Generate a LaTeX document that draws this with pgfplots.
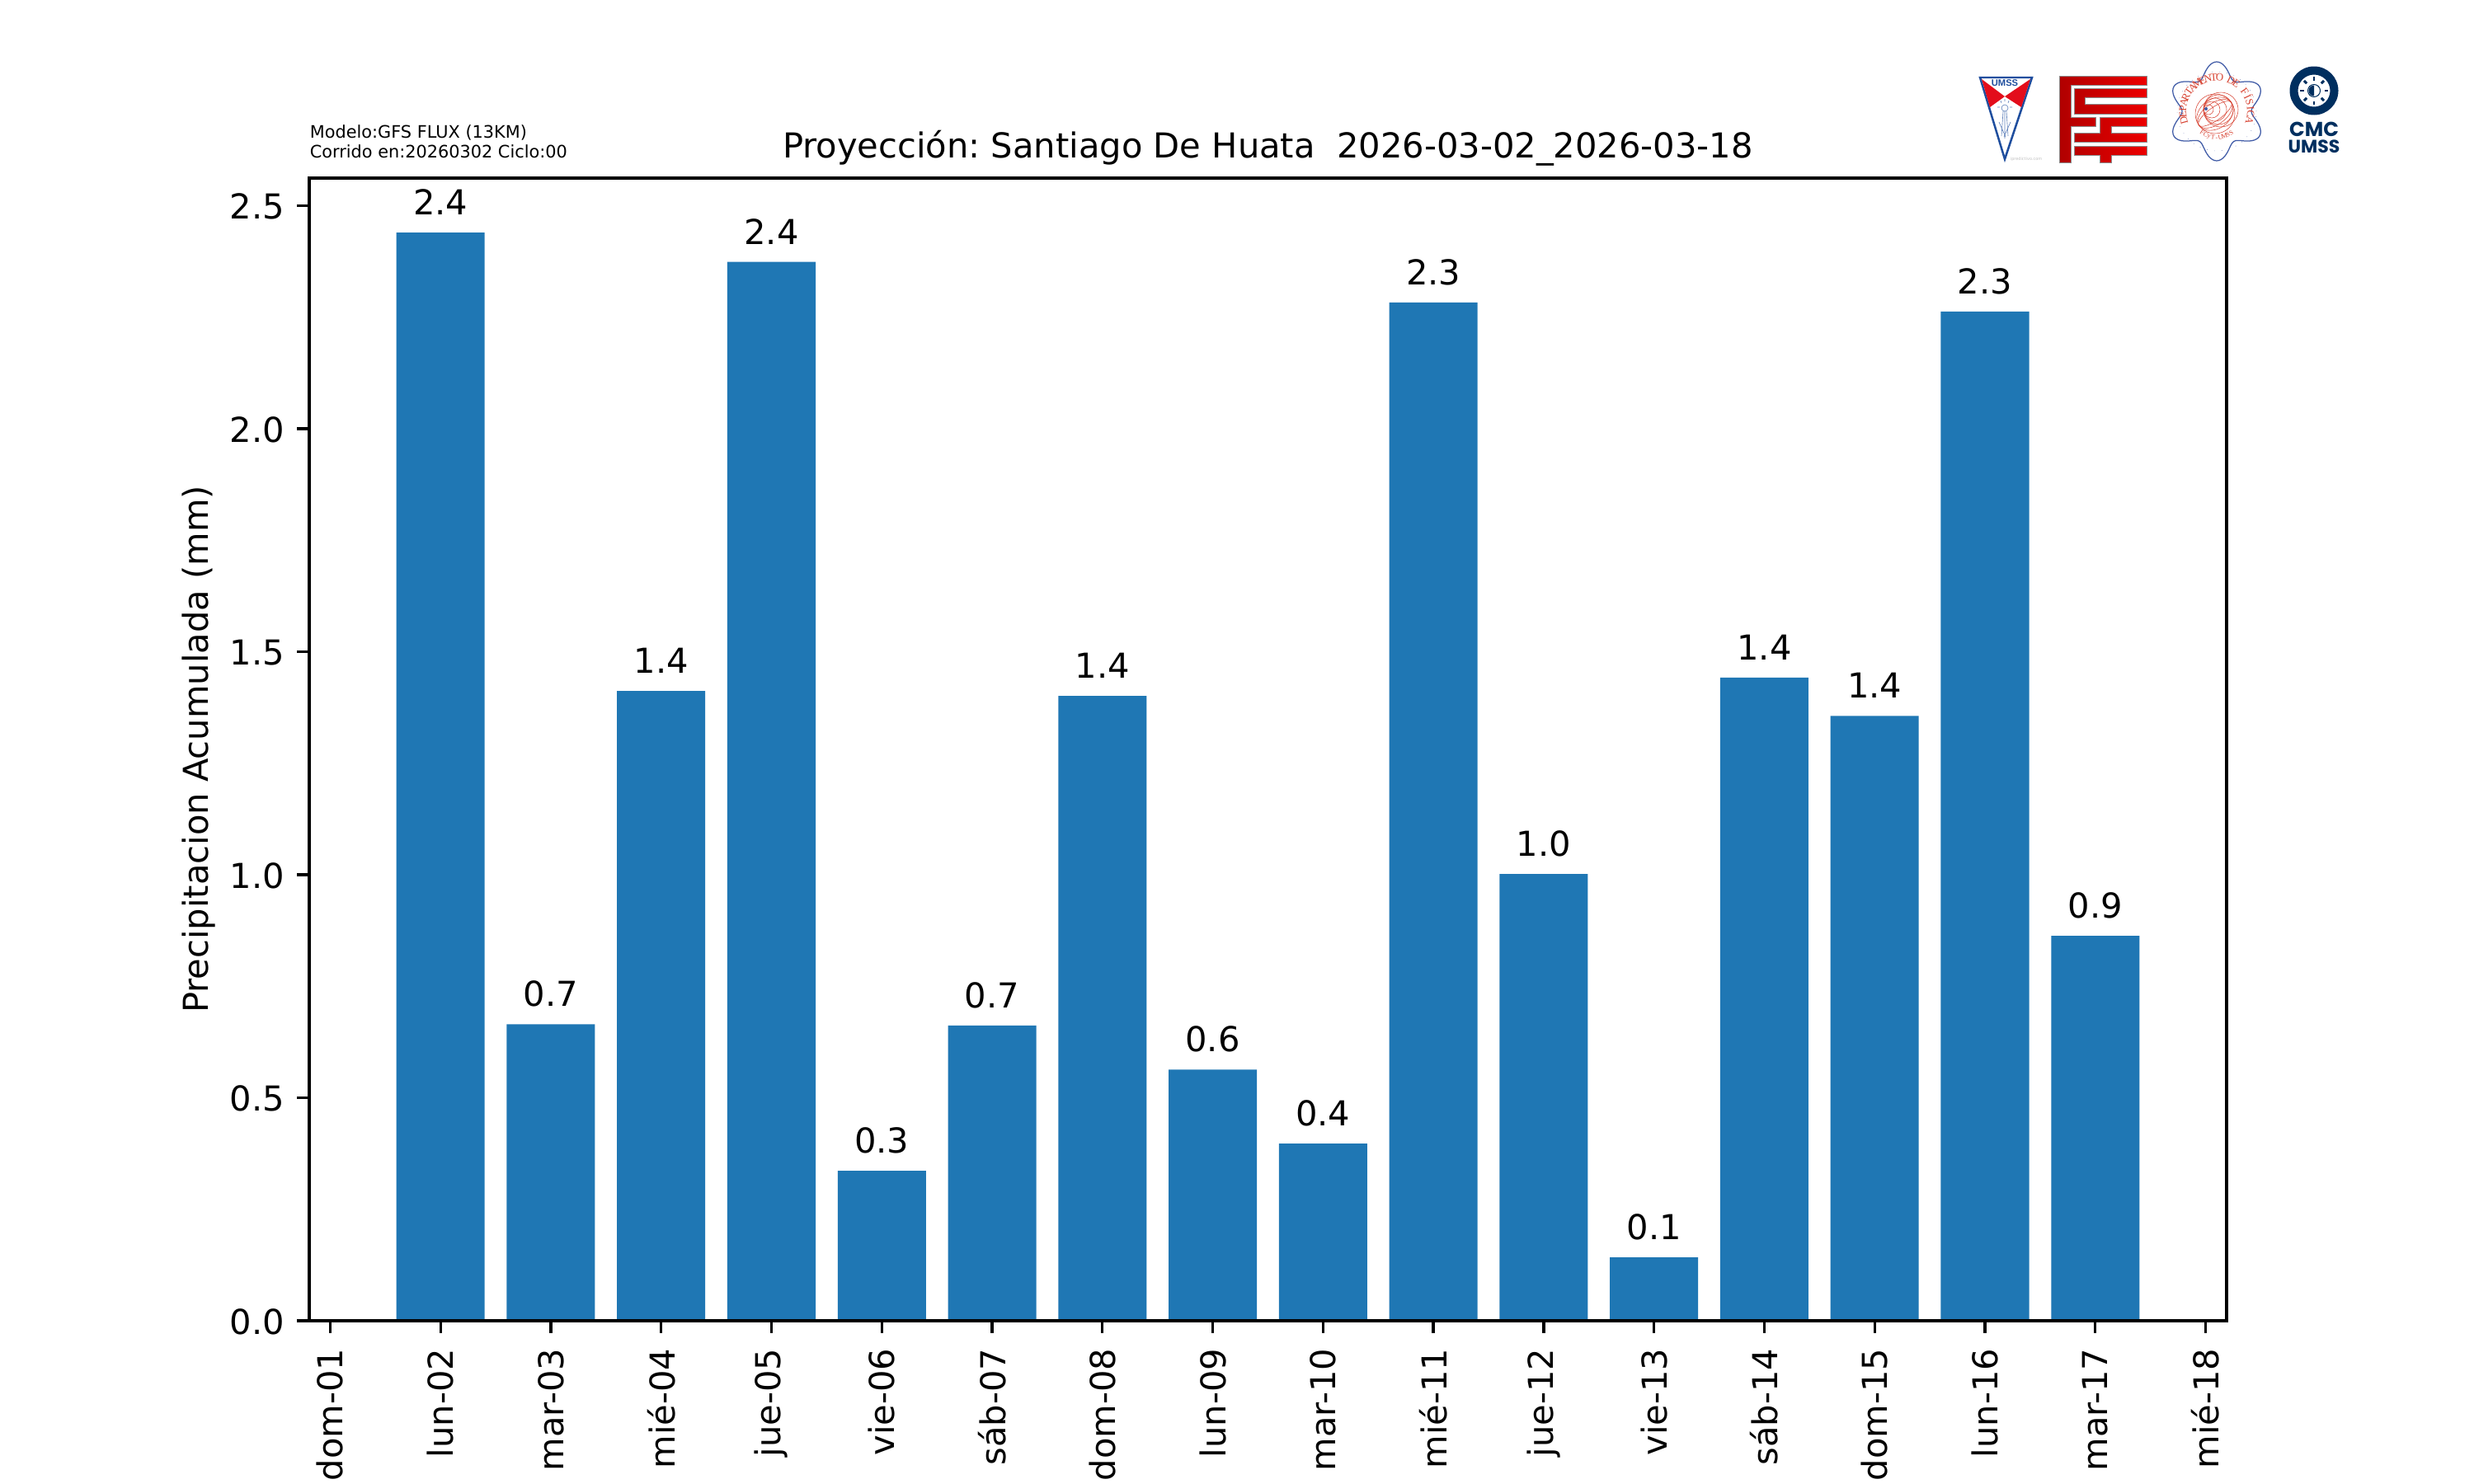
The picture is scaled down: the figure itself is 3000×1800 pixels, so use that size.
\documentclass[border=0pt]{standalone}
\usepackage{fontspec}
\setmainfont{DejaVu Sans}
\newfontfamily\logoarial{Liberation Sans}
\newfontfamily\logoserif{Liberation Serif}
\newfontfamily\logopop{Poppins}
\usepackage{pgfplots}
\pgfplotsset{compat=1.18}
\definecolor{barblue}{HTML}{1F77B4}
\definecolor{umssblue}{HTML}{1F4E9E}
\definecolor{umssred}{HTML}{E30D1B}
\definecolor{fcytdark}{HTML}{B00000}
\definecolor{fcytlight}{HTML}{EC0000}
\definecolor{fisblue}{HTML}{3F5AA6}
\definecolor{fisred}{HTML}{D6402F}
\definecolor{cmcnavy}{HTML}{002F5F}
\newcommand{\mplsize}{\fontsize{10.03}{12}\selectfont}
\frenchspacing
\begin{document}
\begin{tikzpicture}[x=0.240900pt,y=-0.240900pt]
\path[use as bounding box] (0,0) rectangle (3000,1800);
\coordinate (axisorigin) at (375,1602);

\begin{axis}[
  at={(axisorigin)}, anchor=south west,
  scale only axis,
  width=7.75in, height=4.62in,
  xmin=0.81, xmax=18.19,
  ymin=0, ymax=2.562,
  ybar, bar width=0.8, bar shift=0pt,
  xtick={1,...,18},
  xticklabels={dom-01,lun-02,mar-03,mié-04,jue-05,vie-06,sáb-07,dom-08,lun-09,mar-10,mié-11,jue-12,vie-13,sáb-14,dom-15,lun-16,mar-17,mié-18},
  ytick={0,0.5,1,1.5,2,2.5},
  xtick pos=lower, ytick pos=left,
  tick align=outside,
  major tick length=3.51pt,
  every tick/.style={black,line width=0.803pt},
  axis line style={black,line width=0.803pt},
  axis on top,
  tick label style={font=\mplsize},
  xticklabel style={rotate=90,anchor=east,inner sep=0pt,xshift=-4.4pt},
  yticklabel style={anchor=east,inner sep=0pt,xshift=-3.51pt,yshift=-0.3pt,
    /pgf/number format/fixed,/pgf/number format/fixed zerofill,/pgf/number format/precision=1,
    /pgf/number format/assume math mode=true},
  title={Proyección: Santiago De Huata\ \ 2026-03-02\_2026-03-18},
  title style={at={(axis description cs:0.5,1)},anchor=base,inner sep=0pt,font=\mplsize},
  ylabel={Precipitacion Acumulada (mm)},
  every axis y label/.style={at={(axis description cs:-0.0577,0.5)},rotate=90,anchor=center,inner sep=0pt,font=\mplsize},
  nodes near coords,
  point meta=y,
  every node near coord/.style={anchor=base,inner sep=0pt,yshift=5.2pt,font=\mplsize,black,
    /pgf/number format/fixed,/pgf/number format/fixed zerofill,/pgf/number format/precision=1,
    /pgf/number format/assume math mode=true},
]
\addplot[fill=barblue,draw=none] coordinates {
(2,2.440)
(3,0.665)
(4,1.412)
(5,2.374)
(6,0.336)
(7,0.662)
(8,1.401)
(9,0.563)
(10,0.397)
(11,2.283)
(12,1.0015)
(13,0.142)
(14,1.442)
(15,1.356)
(16,2.263)
(17,0.863)
};
\end{axis}

% small run info, top left
\node[anchor=base west,inner sep=0pt,font=\fontsize{5.02}{6}\selectfont] at (375,168) {Modelo:GFS FLUX (13KM)};
\node[anchor=base west,inner sep=0pt,font=\fontsize{5.02}{6}\selectfont] at (375,191) {Corrido en:20260302 Ciclo:00};

% logo UMSS
\filldraw[fill=white,draw=umssblue,line width=0.6pt] (2401,94) -- (2464,94) -- (2431,193) -- cycle;
\fill[umssred] (2403,96) -- (2431,117) -- (2413,130) -- cycle;
\fill[umssred] (2462,96) -- (2431,117) -- (2451,130) -- cycle;
\node[font=\logoarial\bfseries\fontsize{2.7}{3}\selectfont,text=umssblue,inner sep=0pt] at (2431,101) {UMSS};
\begin{scope}[umssblue!70,line width=0.15pt]
\draw (2431,131) circle[radius=4];
\draw (2429,135) -- (2427,165) (2433,135) -- (2435,165) (2431,135) -- (2431,168);
\draw (2424,148) -- (2432,166) (2438,148) -- (2430,166);
\draw (2422,130) -- (2425,130) (2437,130) -- (2440,130) (2426,122) -- (2427,125) (2436,122) -- (2435,125) (2431,120) -- (2431,123);
\end{scope}
\node[font=\fontsize{1.2}{1.5}\selectfont,text=black!25,inner sep=0pt] at (2457,193) {ipredictivo.com};

% logo FCyT
\path[left color=fcytdark,right color=fcytlight,draw=black!45,line width=0.15pt]
 (2497,92) -- (2603,92) -- (2603,103) -- (2511,103) -- (2511,142) -- (2541,142) -- (2541,153) -- (2511,153) -- (2511,197) -- (2497,197) -- cycle
 (2515,107) -- (2603,107) -- (2603,118) -- (2528,118) -- (2528,126) -- (2603,126) -- (2603,138) -- (2515,138) -- cycle
 (2546,142) -- (2603,142) -- (2603,153) -- (2560,153) -- (2560,161) -- (2603,161) -- (2603,172) -- (2515,172) -- (2515,161) -- (2546,161) -- cycle
 (2515,177) -- (2603,177) -- (2603,188) -- (2560,188) -- (2560,197) -- (2546,197) -- (2546,188) -- (2515,188) -- cycle;

% logo Departamento de Fisica
\begin{scope}[shift={(2688,135)},y=0.2409pt]
\draw[fisblue,line width=0.3pt] plot[domain=0:360,samples=145,smooth] ({(51+9*cos(6*(\x-30)))*cos(\x)},{(51+9*cos(6*(\x-30)))*sin(\x)}) -- cycle;
\draw[fisblue!70,line width=0.15pt,dotted] (0,0) circle[radius=48];
\foreach \c [count=\i from 0] in {D,E,P,A,R,T,A,M,E,N,T,O,{},D,E,{},F,Í,S,I,C,A}
  \node[font=\logoserif\fontsize{3.1}{3.5}\selectfont,text=fisred,inner sep=0pt,anchor=base,rotate={195-10*\i-90}] at ({195-10*\i}:37) {\c};
\foreach \c [count=\i from 0] in {F,C,y,T,-,U,M,S,S}
  \node[font=\logoserif\fontsize{1.9}{2}\selectfont,text=fisred,inner sep=0pt,anchor=base,rotate={236+8.5*\i+90}] at ({236+8.5*\i}:34) {\c};
\begin{scope}[fisred,line width=0.13pt]
\draw (-2,-3) circle[radius=24];
\foreach \r in {6,10,14,18,21} \draw (-16,3) ++(\r,-1) circle[radius=\r];
\foreach \r in {8,13,18} \draw[rotate around={35:(-2,-3)}] (-2,-3) ellipse[x radius=24,y radius=\r];
\end{scope}
\fill[fisblue] (-13,3) circle[radius=2];
\end{scope}

% logo CMC
\fill[cmcnavy,even odd rule] (2806,110) circle[radius=29.5] (2806,110) circle[radius=19.5];
\draw[cmcnavy,line width=0.25pt] (2806,110) circle[radius=7.5];
\fill[cmcnavy] (2806,103.5) arc[start angle=-90,end angle=-270,radius=6.5] -- cycle;
\foreach \a in {0,45,...,315}
  \draw[cmcnavy,line width=0.7pt] (2806,110) ++(\a:12.5) -- ++(\a:4.5);
\node[font=\logopop\bfseries\fontsize{5.9}{7}\selectfont,text=cmcnavy,inner sep=0pt] at (2806,157) {CMC};
\node[font=\logopop\bfseries\fontsize{5.3}{6}\selectfont,text=cmcnavy,inner sep=0pt] at (2806,178) {UMSS};
\end{tikzpicture}
\end{document}
